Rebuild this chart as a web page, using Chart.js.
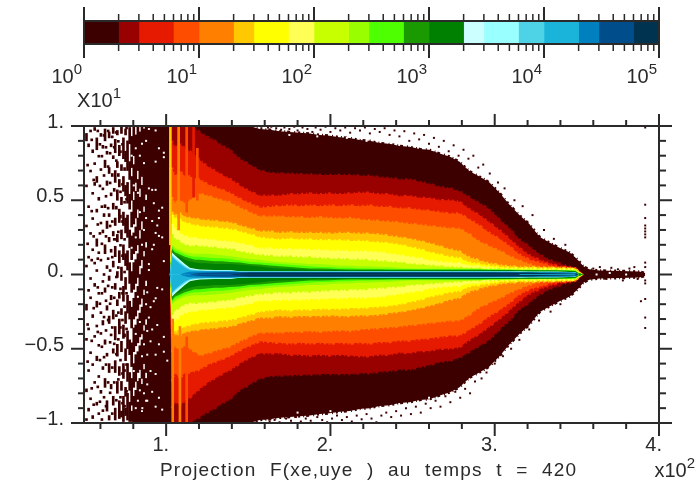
<!DOCTYPE html>
<html>
<head>
<meta charset="utf-8">
<style>
  html, body { margin: 0; padding: 0; background: #fff; }
  canvas { position: absolute; left: 0; top: 0; filter: blur(0.45px); }
</style>
<script src="https://cdn.jsdelivr.net/npm/chart.js@4"></script>
</head>
<body>
<canvas id="mainChart" width="699" height="488"></canvas>
<canvas id="barChart" width="699" height="100"></canvas>
<script>
// Colour bar
const colorEdges = [1, 2, 3, 6, 10, 20, 30, 60, 100, 200, 300, 600, 1000, 2000, 3000, 6000, 10000, 20000, 30000, 60000, 100000];
const levelColors = ["#3d0000", "#990000", "#e61a00", "#ff4d00", "#ff8000", "#ffc800", "#ffff00", "#ffff55", "#c8ff00", "#99ff00", "#4dff00", "#1a9900", "#008000", "#ccffff", "#99ffff", "#4dd2e6", "#1ab3d9", "#0080bf", "#004d8c", "#003350"];
const decadeTicks = [1, 10, 100, 1000, 10000, 100000];
const decadeExponents = ["0", "1", "2", "3", "4", "5"];
const minorMultipliers = [2, 3, 4, 5, 6, 7, 8, 9];

// Axis ticks
const xMajorTicks = [1, 2, 3, 4];
const xMajorLabels = ["1.", "2.", "3.", "4."];
const xMinorTicks = [0.6, 0.8, 1.2, 1.4, 1.6, 1.8, 2.2, 2.4, 2.6, 2.8, 3.2, 3.4, 3.6, 3.8];
const yMajorTicks = [-1, -0.5, 0, 0.5, 1];
const yMajorLabels = ["\u22121.", "\u22120.5", "0.", "0.5", "1."];
const yMinorTicks = [-0.9, -0.8, -0.7, -0.6, -0.4, -0.3, -0.2, -0.1, 0.1, 0.2, 0.3, 0.4, 0.6, 0.7, 0.8, 0.9];
const axisTitle = "Projection F(xe,uye ) au temps t = 420";

// Half height of each count level (mirrored about y = 0), one value per column
const xColumns = [0.882, 1.023, 1.035, 1.053, 1.084, 1.114, 1.144, 1.175, 1.205, 1.248, 1.296, 1.339, 1.388, 1.448, 1.509, 1.570, 1.631, 1.691, 1.752, 1.813, 1.874, 1.935, 1.995, 2.056, 2.117, 2.178, 2.239, 2.299, 2.360, 2.421, 2.482, 2.543, 2.603, 2.664, 2.725, 2.786, 2.847, 2.907, 2.968, 3.029, 3.090, 3.150, 3.211, 3.272, 3.333, 3.394, 3.454, 3.491, 3.509, 3.540, 3.576, 3.637, 3.758, 3.880, 3.916];
const level1 = [1, 1, 1, 1, 1, 1, 1, 1, 1, 1, 1, 1, 1, 1, 1, .98, .975, .965, .96, .955, .95, .94, .935, .925, .92, .905, .90, .885, .88, .865, .86, .845, .84, .815, .795, .76, .695, .66, .62, .55, .47, .40, .34, .255, .215, .18, .15, .115, .095, .055, .035, .027, .024, .02, .01];
const level2 = [0, 0, 1, 1, 1, 1, 1, .98, .96, .93, .90, .87, .84, .78, .74, .70, .685, .68, .68, .675, .675, .67, .67, .67, .67, .665, .665, .655, .65, .64, .64, .625, .61, .59, .58, .56, .52, .48, .44, .37, .31, .235, .19, .135, .10, .074, .054, .04, .027];
const level3 = [0, 0, .90, .85, .88, .85, .83, .80, .77, .73, .70, .67, .645, .60, .56, .53, .53, .53, .54, .54, .545, .54, .545, .54, .545, .55, .55, .54, .54, .525, .53, .515, .515, .50, .50, .49, .44, .40, .35, .30, .24, .18, .13, .10, .075, .055, .05, .04, .03];
const level4 = [0, 0, .72, .66, .70, .66, .66, .65, .64, .61, .59, .57, .55, .51, .48, .45, .455, .46, .465, .46, .465, .46, .465, .46, .465, .46, .465, .455, .455, .445, .445, .435, .43, .42, .41, .41, .37, .33, .28, .24, .19, .135, .10, .08, .06, .05, .045, .04, .03];
const level5 = [0, 0, .52, .48, .50, .48, .50, .52, .545, .53, .515, .50, .485, .45, .42, .39, .39, .39, .385, .385, .38, .385, .38, .375, .38, .37, .365, .36, .355, .35, .34, .335, .325, .32, .31, .31, .27, .22, .19, .16, .125, .095, .07, .05, .045, .04, .04, .035, .025];
const level6 = [0, 0, .42, .40, .41, .39, .38, .375, .37, .365, .36, .355, .35, .33, .31, .29, .29, .28, .285, .28, .28, .28, .275, .28, .28, .275, .275, .27, .26, .25, .24, .225, .21, .19, .17, .155, .115, .095, .075, .065, .055, .05, .05, .047, .045, .044, .04, .035, .022];
const level7 = [0, 0, .40, .38, .37, .35, .34, .33, .325, .32, .315, .31, .305, .29, .27, .25, .24, .235, .24, .235, .235, .23, .23, .23, .225, .225, .22, .215, .21, .20, .185, .17, .15, .135, .12, .11, .08, .07, .06, .05, .046, .044, .043, .04, .04, .04, .038, .034, .02];
const level8 = [0, 0, .34, .31, .28, .26, .25, .245, .24, .235, .23, .225, .22, .21, .195, .175, .175, .17, .17, .17, .165, .165, .16, .16, .155, .155, .155, .15, .14, .13, .12, .11, .095, .085, .08, .075, .06, .055, .047, .04, .038, .038, .037, .037, .036, .036, .035, .03, .018];
const level9 = [0, 0, .27, .24, .22, .20, .19, .19, .19, .185, .18, .175, .17, .155, .14, .13, .125, .12, .12, .115, .115, .11, .105, .105, .10, .10, .095, .09, .085, .08, .07, .065, .06, .055, .05, .045, .04, .038, .036, .035, .034, .033, .033, .032, .032, .031, .03, .028, .015];
const level10 = [0, 0, .20, .18, .165, .15, .145, .14, .14, .14, .135, .13, .125, .115, .105, .10, .09, .085, .08, .075, .07, .07, .065, .06, .06, .055, .055, .05, .05, .045, .04, .04, .04, .04, .04, .04, .04, .038, .035, .034, .033, .032, .032, .031, .031, .03, .029, .026, .013];
const level11 = [0, 0, .19, .165, .15, .135, .125, .12, .12, .115, .11, .11, .105, .095, .085, .08, .075, .07, .065, .06, .055, .05, .05, .045, .045, .04, .04, .038, .038, .037, .037, .036, .036, .036, .036, .036, .036, .035, .034, .033, .032, .031, .031, .03, .03, .029, .028, .025, .012];
const level12 = [0, 0, .175, .15, .135, .12, .11, .10, .10, .095, .09, .09, .085, .08, .07, .067, .06, .055, .05, .045, .04, .04, .038, .035, .034, .034, .033, .033, .032, .032, .032, .032, .032, .032, .032, .032, .032, .032, .031, .03, .03, .029, .029, .028, .028, .027, .026, .023, .01];
const level13 = [0, 0, .16, .135, .12, .10, .09, .08, .075, .075, .07, .07, .07, .065, .06, .054, .045, .04, .038, .035, .032, .03, .03, .03, .029, .029, .029, .029, .029, .029, .029, .029, .029, .029, .029, .029, .029, .029, .028, .028, .028, .027, .027, .026, .026, .025, .024, .02, .008];
const level14 = [0, 0, .15, .13, .10, .07, .045, .038, .034, .032, .03, .03, .03, .022, .021, .021, .021, .021, .021, .021, .021, .021, .021, .021, .021, .021, .021, .021, .021, .021, .021, .021, .021, .021, .021, .021, .021, .021, .021, .02, .02, .02, .019, .019, .018, .018, .017, .015];
const level15 = [0, 0, .14, .12, .09, .062, .04, .034, .031, .029, .028, .027, .027, .021, .02, .02, .02, .02, .02, .02, .02, .02, .02, .02, .02, .02, .02, .02, .02, .02, .02, .02, .02, .02, .02, .02, .02, .02, .02, .02, .02, .02, .019, .019, .018, .018, .017, .015];
const level16 = [0, 0, .13, .11, .08, .055, .036, .03, .028, .026, .025, .025, .025, .02, .02, .02, .02, .02, .02, .02, .02, .02, .02, .02, .02, .02, .02, .02, .02, .02, .02, .02, .02, .02, .02, .02, .02, .02, .02, .02, .02, .019, .019, .018, .018, .017, .016, .014];
const level17 = [0, 0, .12, .10, .07, .045, .03, .026, .024, .023, .022, .022, .022, .019, .019, .019, .019, .019, .019, .019, .019, .019, .019, .019, .019, .019, .019, .019, .019, .019, .019, .019, .019, .019, .019, .019, .019, .019, .019, .018, .018, .017, .017, .016, .016, .015, .014, .012];
const level18 = [0, 0, 0, 0, 0, .012, .018, .02, .02, .02, .02, .02, .02, .017, .017, .017, .017, .017, .017, .017, .017, .017, .017, .017, .017, .017, .017, .017, .017, .017, .017, .017, .017, .017, .017, .017, .017, .017, .017, .016, .016, .015, .015, .014, .014, .013, .012, .011];
const level19 = [0, 0, 0, 0, 0, 0, 0, .006, .01, .012, .014, .015, .015, .015, .015, .015, .015, .015, .015, .015, .015, .015, .015, .015, .015, .015, .015, .015, .015, .015, .015, .015, .015, .015, .015, .015, .015, .015, .015, .014, .014, .013, .013, .012, .012, .011, .011, .01];
const level20 = [0, 0, 0, 0, 0, 0, 0, 0, 0, 0, 0, 0, 0, .006, .012, .012, .012, .012, .012, .012, .012, .012, .012, .012, .012, .012, .012, .012, .012, .012, .012, .012, .012, .012, .012, .012, .012, .012, .012, .011, .011, .011, .011, .01, .01, .01, .009, .008];
const levels = [level1, level2, level3, level4, level5, level6, level7, level8, level9, level10, level11, level12, level13, level14, level15, level16, level17, level18, level19, level20];

// Lighter thread inside the dark core near the tip
const coreX = [3.15, 3.27, 3.39, 3.49];
const coreHalf = [0.003, 0.004, 0.005, 0.007];
const coreColor = "#1ab3d9";

// Bright vertical streaks next to the wall
const streakX = [1.026, 1.04, 1.076, 1.084, 1.125, 1.125, 1.167, 1.19];
const streakTop = [1, -0.3, 1, -0.35, 1, -0.42, 1, 0.85];
const streakBottom = [0.2, -1, 0.3, -1, 0.42, -1, 0.52, 0.5];
const streakColors = ["#ffd000", "#ff8000", "#ff8000", "#ff8000", "#ff4d00", "#ff4d00", "#e61a00", "#ff4d00"];

// Scattered low count cells on the left, top/bottom pairs per column
const sparseX = [.515, .522, .528, .54, .547, .553, .559, .565, .578, .584, .59, .597, .603, .609, .615, .622, .628, .634, .64, .647, .653, .659, .665, .672, .678, .684, .69, .697, .703, .709, .715, .722, .728, .734, .74, .747, .753, .759, .765, .778, .79, .803, .815, .828, .84, .853, .865, .878];
const sparseRuns = [
  [.95, .90, .60, .59, .33, .32, .06, .05, -.20, -.24, -.43, -.44, -.77, -.79, -.97, -.98],
  [.74, .73, .21, .20, -.33, -.34, -.58, -.59],
  [.88, .86, .46, .45, .12, .11, -.10, -.11, -.36, -.37, -.64, -.65, -.90, -.92],
  [.97, .96, .70, .69, .28, .27, -.02, -.03, -.15, -.16, -.52, -.53, -.83, -.84],
  [.91, .90, .43, .42, .10, .09, -.44, -.45, -.76, -.77],
  [.84, .82, .55, .54, .38, .37, .17, .16, -.27, -.29, -.60, -.61, -.95, -.97],
  [.64, .63, .26, .25, -.22, -.23, -.87, -.88],
  [.99, .97, .75, .74, .62, .60, .08, .07, -.06, -.08, -.41, -.42, -.72, -.73],
  [.92, .84, .66, .62, .44, .42, .24, .19, .03, .02, -.18, -.22, -.34, -.35, -.55, -.58, -.86, -.88],
  [.97, .96, .34, .33, .11, .10, -.08, -.09, -.38, -.39, -.75, -.76],
  [.80, .79, .52, .50, .15, .14, -.12, -.13, -.47, -.48, -.68, -.69, -.93, -.94],
  [.88, .87, .60, .59, .28, .27, -.19, -.20, -.57, -.58, -.85, -.86],
  [.95, .93, .71, .70, .35, .34, .10, .09, -.25, -.26, -.39, -.40, -.78, -.80],
  [.80, .79, .46, .45, .21, .20, -.12, -.13, -.48, -.49, -.97, -.98],
  [.87, .85, .58, .57, .30, .28, -.04, -.05, -.31, -.34, -.62, -.64, -.91, -.92],
  [.94, .93, .67, .66, .41, .39, .01, 0, -.28, -.29, -.55, -.56, -.82, -.83],
  [.98, .90, .77, .72, .47, .45, .20, .14, -.09, -.12, -.44, -.47, -.70, -.76],
  [.86, .85, .53, .52, .26, .25, -.17, -.18, -.37, -.38, -.60, -.61, -.88, -.89],
  [.83, .81, .63, .60, .36, .31, .06, .04, -.21, -.24, -.53, -.55, -.85, -.92],
  [.97, .96, .73, .72, .45, .44, .11, .10, -.07, -.08, -.30, -.31, -.72, -.73],
  [.96, .92, .72, .68, .41, .39, .25, .22, -.01, -.04, -.28, -.33, -.60, -.66, -.95, -.98],
  [.82, .81, .62, .61, .33, .32, .03, .02, -.19, -.20, -.45, -.46, -.79, -.80],
  [.88, .86, .55, .53, .17, .15, -.14, -.17, -.40, -.41, -.74, -.77],
  [.93, .92, .68, .66, .36, .35, .12, .11, -.08, -.09, -.35, -.36, -.62, -.63, -.93, -.94],
  [.99, .95, .80, .78, .48, .44, .29, .26, .09, .05, -.24, -.30, -.50, -.53, -.82, -.88],
  [.86, .85, .58, .56, .24, .23, -.15, -.16, -.46, -.47, -.72, -.73],
  [.91, .82, .70, .62, .38, .33, .19, .12, -.06, -.10, -.35, -.44, -.58, -.66, -.90, -.98],
  [.96, .95, .77, .76, .46, .44, .24, .23, -.01, -.02, -.27, -.28, -.53, -.54, -.84, -.85],
  [.97, .94, .76, .72, .57, .50, .27, .22, .02, -.02, -.17, -.21, -.47, -.55, -.72, -.80],
  [.90, .89, .68, .66, .29, .28, .05, .04, -.25, -.26, -.43, -.44, -.70, -.71],
  [.87, .80, .64, .59, .44, .35, .16, .08, -.12, -.16, -.30, -.40, -.62, -.68, -.85, -.97],
  [.83, .82, .56, .55, .40, .38, .20, .19, -.09, -.10, -.35, -.36, -.57, -.58, -.82, -.83],
  [1, .95, .74, .70, .52, .47, .30, .24, .05, -.04, -.23, -.27, -.45, -.52, -.72, -.78, -.92, -.96],
  [.88, .87, .61, .60, .36, .35, .13, .12, -.12, -.13, -.30, -.31, -.66, -.67, -.86, -.87],
  [.92, .78, .66, .56, .42, .33, .20, .10, -.08, -.18, -.34, -.43, -.60, -.70, -.82, -.99],
  [.72, .70, .49, .48, .24, .23, .02, .01, -.21, -.22, -.40, -.42, -.64, -.65, -.88, -.89],
  [.98, .94, .83, .76, .60, .53, .38, .28, .14, .06, -.02, -.10, -.25, -.33, -.50, -.58, -.76, -.82, -.90, -.95],
  [.99, .98, .51, .50, .12, .11, -.12, -.13, -.36, -.37, -.60, -.61, -.78, -.79],
  [.90, .70, .62, .48, .40, .25, .16, .03, -.14, -.26, -.38, -.50, -.60, -.72, -.80, -.98],
  [.99, .88, .76, .64, .54, .44, .30, .18, .08, -.06, -.18, -.30, -.44, -.54, -.66, -.78, -.86, -.99],
  [.93, .72, .66, .50, .42, .32, .26, .10, .02, -.12, -.22, -.36, -.46, -.62, -.70, -.88, -.92, -.99],
  [1, .80, .74, .56, .50, .34, .28, .14, .08, -.10, -.16, -.30, -.36, -.52, -.60, -.76, -.82, -1],
  [.94, .62, .56, .38, .32, .16, .10, -.06, -.12, -.28, -.34, -.48, -.54, -.72, -.78, -1],
  [1, .70, .64, .44, .38, .20, .14, -.02, -.08, -.24, -.30, -.46, -.52, -.66, -.72, -1],
  [.96, .58, .52, .30, .24, .06, 0, -.20, -.26, -.42, -.48, -.64, -.70, -1],
  [1, .66, .60, .36, .30, .10, .04, -.16, -.22, -.40, -.44, -.70, -.74, -1],
  [.98, .46, .42, .16, .12, -.10, -.14, -.34, -.38, -.60, -.64, -1],
  [1, .54, .50, .22, .18, -.04, -.08, -.30, -.34, -.66, -.70, -1]
];

// Loose cells along the outer edge and the far right column
const speckleX = [1.58, 1.62, 1.64, 1.67, 1.70, 1.72, 1.75, 1.78, 1.80, 1.83, 1.86, 1.89, 1.91, 1.94, 1.97, 2.00, 2.03, 2.06, 2.09, 2.12, 2.15, 2.18, 2.21, 2.24, 2.27, 2.30, 2.33, 2.36, 2.39, 2.42, 2.45, 2.48, 2.51, 2.54, 2.57, 2.60, 2.63, 2.66, 2.69, 2.72, 2.75, 2.78, 2.81, 2.84, 2.87, 2.90, 2.93, 2.97, 3.02, 3.06, 3.12, 3.17, 3.23, 3.30, 3.36, 3.43,
  1.55, 1.60, 1.63, 1.66, 1.69, 1.73, 1.76, 1.79, 1.82, 1.85, 1.88, 1.92, 1.95, 1.98, 2.01, 2.04, 2.07, 2.10, 2.13, 2.16, 2.19, 2.22, 2.25, 2.28, 2.31, 2.34, 2.37, 2.40, 2.43, 2.46, 2.49, 2.52, 2.55, 2.58, 2.61, 2.64, 2.67, 2.70, 2.73, 2.76, 2.79, 2.82, 2.85, 2.88, 2.92, 2.95, 3.00, 3.05, 3.10, 3.15, 3.21, 3.27, 3.34, 3.40,
  3.60, 3.64, 3.68, 3.71, 3.75, 3.78, 3.82, 3.85, 3.87,
  3.916, 3.916, 3.916, 3.916, 3.916, 3.916, 3.916, 3.916, 3.916, 3.916, 3.916, 3.916, 3.916, 3.89, 3.916, 3.916];
const speckleY = [.995, .99, .995, .985, .975, .99, .98, .995, .97, .99, .98, .96, .99, .975, .995, .96, .985, .97, .99, .955, .985, .97, .99, .95, .98, .96, .985, .94, .97, .93, .965, .90, .95, .91, .94, .88, .92, .86, .90, .83, .87, .80, .84, .78, .80, .72, .74, .68, .62, .58, .50, .46, .40, .30, .24, .20,
  -.99, -.97, -.99, -.98, -.995, -.97, -.985, -.96, -.99, -.97, -.985, -.96, -.98, -.995, -.97, -.95, -.98, -.96, -.99, -.95, -.975, -.94, -.97, -.995, -.95, -.93, -.96, -.92, -.95, -.90, -.94, -.89, -.93, -.87, -.90, -.85, -.89, -.82, -.86, -.79, -.83, -.77, -.80, -.72, -.70, -.66, -.60, -.55, -.50, -.44, -.37, -.31, -.25, -.20,
  .04, .05, -.03, .045, .035, -.04, .04, .05, -.03,
  .99, .47, .38, .33, .31, .29, .27, .25, .08, .05, -.04, -.06, -.165, -.18, -.29, -.36];

// White gaps inside the solid dark part
const holeX = [.895, .936, .956, .986, .986, .936, .915, .895, .936, .925, .956, .976, .915, .946, .956, .936, .956, .976, .925, .986, .895, .915, .895,
  .946, .885, .976, .925, .905, .936, .895, .946, .915, .885, .986, .956, .905, .936, .986, 1.007, .885, .905, .936, .885, .915, .956, .885, .936, .976, .855,
  .79, .815, .803, .84, .828, .853, .865, .878, .84, .815, .865, .853, .878, .79, .828, .84, .815, .853, .865, .878, .803, .828, .84, .865, .853, .878, .815,
  1.75, 1.92, 2.10, 2.22, 2.35, 2.50, 2.62, 1.80, 2.00, 2.20, 2.40, 2.60, 3.62, 3.70, 3.80];
const holeY = [.98, .97, .85, .82, .79, .76, .57, .58, .57, .48, .43, .45, .36, .33, .38, .28, .26, .25, .20, .09, .07, .17, .03,
  -.09, -.12, -.10, -.18, -.22, -.16, -.29, -.34, -.37, -.38, -.42, -.47, -.45, -.54, -.52, -.58, -.54, -.65, -.67, -.74, -.79, -.83, -.85, -.89, -.91, -.90,
  .80, .85, .60, .80, .55, .88, .75, .90, .42, .25, .30, .20, .38, .18, -.15, -.32, -.40, -.55, -.47, -.20, -.65, -.85, -.78, -.80, -.92, -.85, -.90,
  .94, .93, .92, .90, .89, .87, .84, -.93, -.92, -.91, -.88, -.83, 0, .01, 0];

const inkColor = "#2a2a2a";
const raggedDash = [2, 3, 1, 2, 3, 4, 1, 3];

function cellPoints(xs, ys) {
  return xs.map((x, i) => ({ x: x, y: ys[i] }));
}

function sparseBars() {
  const bars = [];
  sparseX.forEach((x, col) => {
    const runs = sparseRuns[col];
    for (let i = 0; i < runs.length; i += 2) {
      bars.push({ x: x, y: [runs[i + 1], runs[i]] });
    }
  });
  return bars;
}

function bandDataset(values, color, sign, ragged, fillTarget) {
  return {
    type: "line",
    data: xColumns.map((x, i) => ({ x: x, y: sign * (values[i] || 0) })),
    backgroundColor: color,
    borderColor: color,
    borderWidth: ragged ? 2.5 : 0,
    borderDash: raggedDash,
    pointRadius: 0,
    tension: 0,
    fill: fillTarget,
    segment: {
      // No edge where the band has not started yet
      borderColor: (ctx) => (ctx.p0.parsed.y === 0 || ctx.p1.parsed.y === 0 ? "rgba(0,0,0,0)" : color),
    },
  };
}

// Index 0 ends up on top, so the highest level goes first
const bandDatasets = [];
for (let i = levels.length - 1; i >= 0; i--) {
  bandDatasets.push(bandDataset(levels[i], levelColors[i], 1, i < 9, "origin"));
  // the lowest level overlaps y = 0 a little, otherwise a seam shows left of the wall
  bandDatasets.push(bandDataset(levels[i], levelColors[i], -1, i < 9, i === 0 ? { value: 0.01 } : "origin"));
}

function cellDataset(xs, ys, color) {
  return {
    type: "scatter",
    data: cellPoints(xs, ys),
    backgroundColor: color,
    borderWidth: 0,
    pointStyle: "rect",
    pointRadius: 1.4,
    showLine: false,
  };
}

const coreDatasets = [1, -1].map((sign) => ({
  type: "line",
  data: coreX.map((x, i) => ({ x: x, y: sign * coreHalf[i] })),
  backgroundColor: coreColor,
  borderWidth: 0,
  pointRadius: 0,
  fill: "origin",
}));

const streakDatasets = streakX.map((x, i) => ({
  type: "bar",
  data: [{ x: x, y: [streakBottom[i], streakTop[i]] }],
  backgroundColor: streakColors[i],
  barThickness: 2,
  grouped: false,
}));

function drawPower(ctx, base, exponent, right, baseline) {
  ctx.textAlign = "right";
  ctx.font = "15px 'Liberation Sans'";
  const expWidth = ctx.measureText(exponent).width;
  ctx.fillText(exponent, right, baseline - 9);
  ctx.font = "20px 'Liberation Sans'";
  ctx.fillText(base, right - expWidth, baseline);
}

// Ticks, frame and labels of the main plot
const mainAxes = {
  id: "mainAxes",
  afterDraw(chart) {
    const ctx = chart.ctx;
    const area = chart.chartArea;
    const xs = chart.scales.x;
    const ys = chart.scales.y;
    ctx.save();
    ctx.strokeStyle = inkColor;
    ctx.fillStyle = inkColor;
    ctx.lineWidth = 2;
    ctx.strokeRect(area.left, area.top, area.right - area.left, area.bottom - area.top);

    function segment(x1, y1, x2, y2) {
      ctx.beginPath();
      ctx.moveTo(x1, y1);
      ctx.lineTo(x2, y2);
      ctx.stroke();
    }
    xMinorTicks.forEach((v) => {
      const px = xs.getPixelForValue(v);
      segment(px, area.top, px, area.top - 6);
      segment(px, area.bottom, px, area.bottom + 6);
    });
    xMajorTicks.forEach((v) => {
      const px = xs.getPixelForValue(v);
      segment(px, area.top, px, area.top - 12);
      segment(px, area.bottom, px, area.bottom + 13);
    });
    yMinorTicks.forEach((v) => {
      const py = ys.getPixelForValue(v);
      segment(area.left, py, area.left - 6, py);
      segment(area.right, py, area.right + 7, py);
    });
    yMajorTicks.forEach((v) => {
      const py = ys.getPixelForValue(v);
      segment(area.left, py, area.left - 13, py);
      segment(area.right, py, area.right + 13, py);
    });

    ctx.font = "20px 'Liberation Sans'";
    ctx.textAlign = "right";
    yMajorTicks.forEach((v, i) => {
      ctx.fillText(yMajorLabels[i], 64, ys.getPixelForValue(v) + 2);
    });
    xMajorTicks.forEach((v, i) => {
      ctx.fillText(xMajorLabels[i], xs.getPixelForValue(v) + 3, 451);
    });

    ctx.textAlign = "left";
    ctx.font = "19px 'Liberation Sans'";
    ctx.letterSpacing = "1.2px";
    ctx.wordSpacing = "7px";
    ctx.fillText(axisTitle, 160, 476);
    ctx.letterSpacing = "0px";
    ctx.wordSpacing = "0px";

    drawPower(ctx, "x10", "2", 695, 477);
    drawPower(ctx, "X10", "1", 121, 107);
    ctx.restore();
  },
};

// Decade and minor ticks plus labels of the colour bar
const barAxes = {
  id: "barAxes",
  afterDraw(chart) {
    const ctx = chart.ctx;
    const area = chart.chartArea;
    const xs = chart.scales.x;
    ctx.save();
    ctx.strokeStyle = inkColor;
    ctx.fillStyle = inkColor;
    ctx.lineWidth = 2;
    ctx.strokeRect(area.left, area.top, area.right - area.left, area.bottom - area.top);

    function tick(px, above, below) {
      ctx.beginPath();
      ctx.moveTo(px, area.top - above);
      ctx.lineTo(px, area.top);
      ctx.moveTo(px, area.bottom);
      ctx.lineTo(px, area.bottom + below);
      ctx.stroke();
    }
    decadeTicks.forEach((v, i) => {
      const px = xs.getPixelForValue(v);
      tick(px, 14, 14);
      drawPower(ctx, "10", decadeExponents[i], px - 2, 83);
      if (i < decadeTicks.length - 1) {
        minorMultipliers.forEach((m) => {
          ctx.lineWidth = 1.5;
          tick(xs.getPixelForValue(v * m), 7, 7);
          ctx.lineWidth = 2;
        });
      }
    });
    ctx.restore();
  },
};

new Chart(document.getElementById("mainChart"), {
  type: "scatter",
  data: {
    datasets: [
      cellDataset(holeX, holeY, "#ffffff"),
      cellDataset(speckleX, speckleY, levelColors[0]),
      {
        type: "bar",
        data: sparseBars(),
        backgroundColor: levelColors[0],
        barThickness: 2,
        minBarLength: 2,
        grouped: false,
      },
      ...streakDatasets,
      ...coreDatasets,
      ...bandDatasets,
    ],
  },
  options: {
    responsive: false,
    animation: false,
    layout: { padding: { left: 84, right: 40, top: 126, bottom: 65 } },
    plugins: { legend: { display: false }, tooltip: { enabled: false } },
    scales: {
      x: {
        type: "linear",
        min: 0.5,
        max: 4,
        offset: false,
        grid: { display: false },
        border: { display: false },
        ticks: { display: false },
        afterFit(scale) { scale.height = 0; },
      },
      y: {
        type: "linear",
        min: -1,
        max: 1,
        grid: { display: false },
        border: { display: false },
        ticks: { display: false },
        afterFit(scale) { scale.width = 0; },
      },
    },
  },
  plugins: [mainAxes],
});

new Chart(document.getElementById("barChart"), {
  type: "bar",
  data: {
    labels: ["F"],
    datasets: levelColors.map((color, i) => ({
      data: [[colorEdges[i], colorEdges[i + 1]]],
      backgroundColor: color,
      grouped: false,
      categoryPercentage: 1,
      barPercentage: 1,
    })),
  },
  options: {
    indexAxis: "y",
    responsive: false,
    animation: false,
    layout: { padding: { left: 84, right: 40, top: 21, bottom: 56 } },
    plugins: { legend: { display: false }, tooltip: { enabled: false } },
    scales: {
      x: {
        type: "logarithmic",
        min: 1,
        max: 100000,
        grid: { display: false },
        border: { display: false },
        ticks: { display: false },
        afterFit(scale) { scale.height = 0; },
      },
      y: {
        grid: { display: false },
        border: { display: false },
        ticks: { display: false },
        afterFit(scale) { scale.width = 0; },
      },
    },
  },
  plugins: [barAxes],
});
</script>
</body>
</html>
